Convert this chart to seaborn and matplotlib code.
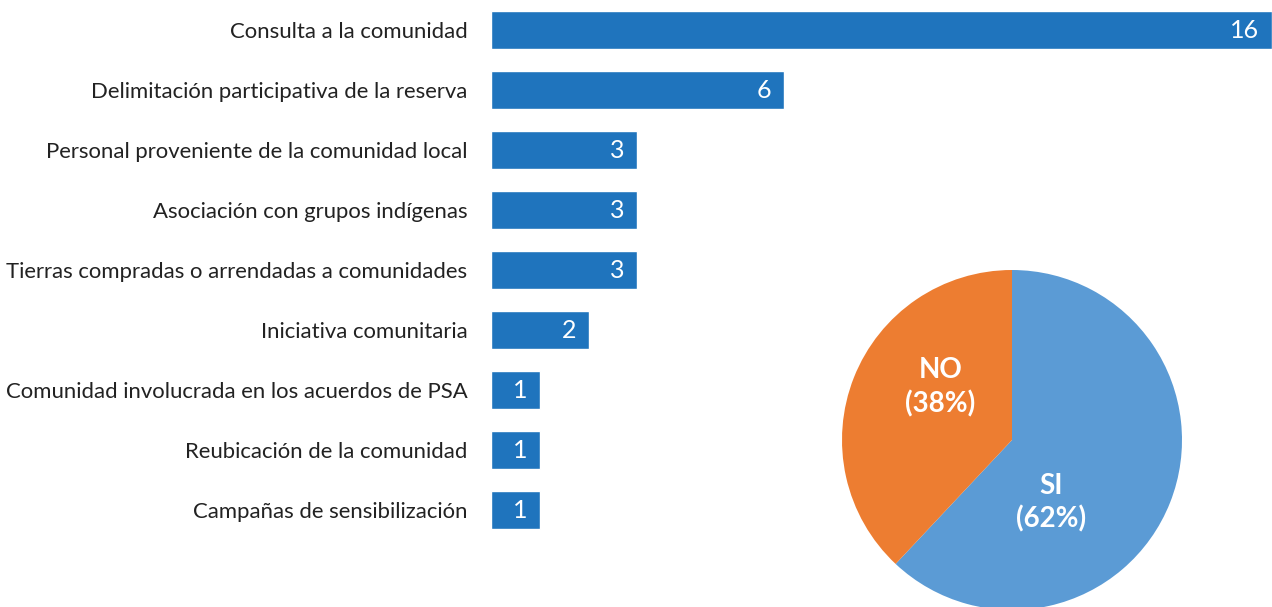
import seaborn as sns
import matplotlib.pyplot as plt
import pandas as pd

# Data
categories = [
    'Consulta a la comunidad',
    'Delimitación participativa de la reserva',
    'Personal proveniente de la comunidad local',
    'Asociación con grupos indígenas',
    'Tierras compradas o arrendadas a comunidades',
    'Iniciativa comunitaria',
    'Comunidad involucrada en los acuerdos de PSA',
    'Reubicación de la comunidad',
    'Campañas de sensibilización',
]
counts = [16, 6, 3, 3, 3, 2, 1, 1, 1]

pie_labels = ['SI', 'NO']
pie_values = [62, 38]

bar_color = '#1F74BD'
pie_colors = ['#5B9BD5', '#ED7D31']

sns.set_theme(style='white')
plt.rcParams['font.family'] = ['Lato', 'DejaVu Sans']

df = pd.DataFrame({'Categoria': categories, 'Valor': counts})

W, H = 1272, 607
fig = plt.figure(figsize=(W / 100, H / 100), dpi=100)

# Bar chart
ax = fig.add_axes([491 / W, 1 - 540 / H, 1 - 491 / W, 540 / H])
sns.barplot(data=df, x='Valor', y='Categoria', orient='h', color=bar_color,
            saturation=1, width=0.63, ax=ax)
ax.set_xlim(0, 16)
ax.set_ylim(len(categories) - 0.5, -0.5)
ax.set_xlabel('')
ax.set_ylabel('')
ax.set_xticks([])
ax.tick_params(axis='y', length=0, pad=17, labelsize=15.9, labelcolor='#222222')
sns.despine(ax=ax, left=True, bottom=True)

for i, v in enumerate(counts):
    ax.annotate(str(v), xy=(v, i), xytext=(-9, 0), textcoords='offset points',
                ha='right', va='center', color='white', fontsize=18)

# Pie chart
pax = fig.add_axes([842 / W, (607 - 610) / H, 340 / W, 340 / H])
pax.pie(pie_values, colors=pie_colors, startangle=90, counterclock=False,
        radius=1, wedgeprops=dict(linewidth=0))
pax.set_xlim(-1, 1)
pax.set_ylim(-1, 1)
pax.set_aspect('equal')
pax.axis('off')

pax.text(0.23, -0.37, f'{pie_labels[0]}\n({pie_values[0]}%)', ha='center', va='center',
         color='white', fontsize=20, fontweight='bold', linespacing=1.3)
pax.text(-0.42, 0.31, f'{pie_labels[1]}\n({pie_values[1]}%)', ha='center', va='center',
         color='white', fontsize=20, fontweight='bold', linespacing=1.3)

fig.savefig('out.png', dpi=100)
